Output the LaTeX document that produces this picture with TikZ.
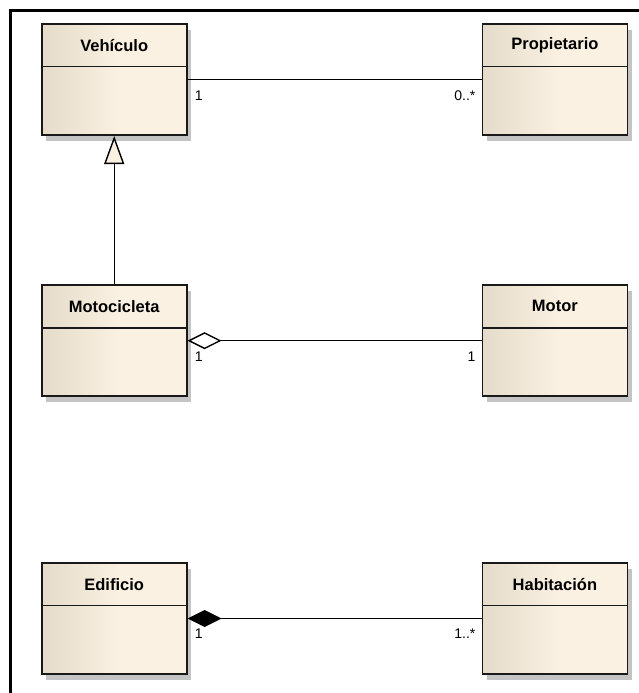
\documentclass[tikz,border=0pt]{standalone}
\usepackage{fontspec}
\setmainfont{Liberation Sans}
\usetikzlibrary{arrows.meta,shadows,calc}

\definecolor{umlL}{RGB}{228,219,202}
\definecolor{umlR}{RGB}{251,241,226}
\definecolor{umlShadow}{RGB}{196,196,196}
\definecolor{umlEdge}{RGB}{25,25,25}

% horizontal fill of the class boxes: tan on the left, cream on the right
\pgfdeclarehorizontalshading{umlfill}{100bp}{color(0bp)=(umlL); color(25bp)=(umlL); color(52bp)=(umlR); color(100bp)=(umlR)}

\tikzset{
  classbox/.style={rectangle, draw=umlEdge, line width=1.7pt, shade, shading=umlfill,
    minimum width=145pt, minimum height=111pt, inner sep=0pt,
    drop shadow={shadow xshift=4.5pt, shadow yshift=-5.5pt, fill=umlShadow, opacity=1}},
  divider/.style={draw=umlEdge, line width=1.3pt},
  classname/.style={font=\fontsize{16.5}{19}\selectfont\bfseries, inner sep=0pt},
  assoc/.style={draw=black, line width=1.4pt},
  mult/.style={font=\fontsize{14}{16}\selectfont, inner sep=0pt},
  generalize/.style={assoc, -{Triangle[fill=umlR, length=28pt, width=20pt]}},
  aggregate/.style={assoc, {Diamond[fill=white, length=34pt, width=17pt]}-},
  compose/.style={assoc, {Diamond[fill=black, length=34pt, width=17pt]}-},
}

\newcommand{\umlclass}[3]{%
  \node[classbox] (#1) at (#2) {};
  \draw[divider] ($(#1.north west)+(0,43.5)$) -- ($(#1.north east)+(0,43.5)$);
  \node[classname] (#1name) at ($(#1.north)+(0,22)$) {#3};
}

\begin{document}
\begin{tikzpicture}[x=1pt, y=-1pt]
  \useasboundingbox (0,0) rectangle (639,693);
  \fill[white] (0,0) rectangle (639,693);

  % diagram frame (runs past the right and bottom edges)
  \draw[line width=2.5pt] (10.5,693) -- (10.5,10.5) -- (639,10.5);

  \umlclass{veh}{114.2,79.7}{Vehículo}
  \umlclass{prop}{554.9,79.7}{Propietario}
  \umlclass{moto}{114.2,340.7}{Motocicleta}
  \umlclass{motor}{554.9,340.7}{Motor}
  \umlclass{edif}{114.2,618.5}{Edificio}
  \umlclass{hab}{554.9,618.5}{Habitación}

  % association Vehículo -- Propietario
  \draw[assoc] (veh.east) -- (prop.west);
  \node[mult, anchor=north west] (m1) at ($(veh.east)+(7,10.5)$) {1};
  \node[mult, anchor=north east] (m2) at ($(prop.west)+(-6,10.5)$) {0..*};

  % generalization Motocicleta -> Vehículo
  \draw[generalize] (moto.north) -- (veh.south);

  % aggregation Motocicleta <>-- Motor
  \draw[aggregate] (moto.east) -- (motor.west);
  \node[mult, anchor=north west] (m3) at ($(moto.east)+(7,10.5)$) {1};
  \node[mult, anchor=north east] (m4) at ($(motor.west)+(-6,10.5)$) {1};

  % composition Edificio <*>-- Habitación
  \draw[compose] (edif.east) -- (hab.west);
  \node[mult, anchor=north west] (m5) at ($(edif.east)+(7,10.5)$) {1};
  \node[mult, anchor=north east] (m6) at ($(hab.west)+(-6,10.5)$) {1..*};
\end{tikzpicture}
\end{document}
